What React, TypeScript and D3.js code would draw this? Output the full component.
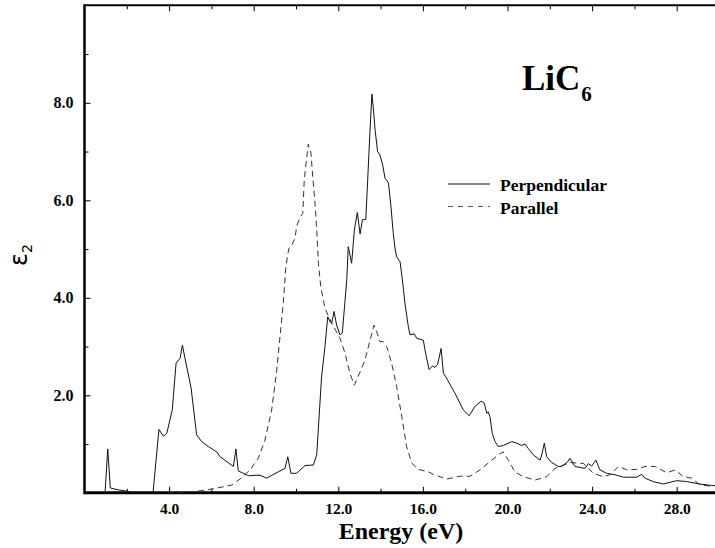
import React, { useEffect, useRef } from "react";
import * as d3 from "d3";

// perpendicular polarisation (solid)
const perpEnergy = [
  0.97, 1.1, 1.22, 1.6, 2.05, 2.2, 3.24, 3.52, 3.73, 3.89, 4.15, 4.33, 4.52, 4.63, 4.75, 5.04, 5.3, 5.54, 5.85,
  6.25, 6.41, 7.04, 7.16, 7.27, 7.75, 8.06, 8.3, 8.61, 9.16, 9.48, 9.61, 9.76, 10.03, 10.43, 10.82, 10.98, 11.21,
  11.37, 11.5, 11.61, 11.69, 11.8, 11.92, 12.08, 12.19, 12.32, 12.4, 12.47, 12.63, 12.76, 12.9, 13.03, 13.14,
  13.3, 13.39, 13.5, 13.59, 13.65, 13.74, 13.86, 13.97, 14.1, 14.21, 14.37, 14.49, 14.6, 14.68, 14.76, 14.92,
  15.03, 15.15, 15.31, 15.39, 15.59, 15.71, 16.02, 16.13, 16.29, 16.46, 16.57, 16.7, 16.86, 16.97, 17.08, 17.52,
  17.91, 18.19, 18.46, 18.75, 18.9, 19.02, 19.09, 19.17, 19.28, 19.41, 19.57, 19.8, 20.2, 20.43, 20.67, 20.83,
  20.98, 21.22, 21.54, 21.62, 21.74, 21.85, 22.09, 22.4, 22.56, 22.85, 22.95, 23.19, 23.66, 23.82, 23.98, 24.18,
  24.37, 24.69, 25.08, 25.48, 26.11, 26.35, 26.5, 26.89, 27.37, 28.0, 28.47, 29.1, 29.65, 30.0,
];
const perpEps = [
  0, 0.9, 0.1, 0.06, 0.03, 0, 0, 1.3, 1.16, 1.22, 1.7, 2.66, 2.76, 3.03, 2.76, 2.15, 1.19, 1.05, 0.95,
  0.84, 0.74, 0.54, 0.9, 0.45, 0.35, 0.36, 0.36, 0.3, 0.43, 0.5, 0.74, 0.4, 0.4, 0.56, 0.57, 0.78, 2.38,
  3.0, 3.61, 3.51, 3.48, 3.72, 3.44, 3.24, 3.28, 3.95, 4.37, 5.05, 4.71, 5.39, 5.75, 5.31, 5.6,
  5.61, 6.42, 7.44, 8.18, 7.92, 7.44, 7.0, 6.93, 6.72, 6.45, 6.36, 5.87, 5.32, 5.02, 4.84, 4.74,
  4.37, 3.89, 3.41, 3.24, 3.26, 3.17, 3.13, 2.86, 2.53, 2.6, 2.57, 2.64, 2.96, 2.45, 2.38, 2.04,
  1.7, 1.58, 1.77, 1.88, 1.84, 1.63, 1.66, 1.56, 1.22, 1.05, 0.95, 0.97, 1.05, 1.02, 0.97, 1.0,
  0.91, 0.78, 0.67, 0.78, 1.02, 0.74, 0.62, 0.54, 0.54, 0.64, 0.71, 0.54, 0.5, 0.6, 0.55, 0.67,
  0.47, 0.4, 0.37, 0.32, 0.32, 0.38, 0.3, 0.23, 0.18, 0.25, 0.23, 0.18, 0.15, 0.14,
];

// parallel polarisation (dashed)
const paraEnergy = [
  3.95, 5.13, 5.78, 6.41, 6.96, 7.35, 7.83, 8.22, 8.53, 8.85, 9.09, 9.32, 9.4, 9.51, 9.59, 9.67, 9.8, 9.95,
  10.03, 10.19, 10.32, 10.39, 10.51, 10.58, 10.71, 10.79, 10.9, 10.98, 11.06, 11.17, 11.37, 11.69, 12.08,
  12.32, 12.55, 12.76, 13.03, 13.26, 13.5, 13.69, 13.82, 13.97, 14.13, 14.29, 14.52, 14.76, 15.0, 15.23,
  15.47, 15.78, 16.26, 16.49, 17.12, 17.75, 18.23, 18.7, 19.17, 19.57, 19.8, 20.04, 20.35, 20.75, 21.3,
  21.85, 22.25, 22.64, 23.0, 23.6, 24.06, 24.53, 24.85, 25.24, 25.64, 26.11, 26.5, 26.97, 27.53, 27.92,
  28.32, 28.71, 29.1, 29.72,
];
const paraEps = [
  0, 0.02, 0.06, 0.11, 0.16, 0.28, 0.47, 0.71, 1.08, 1.7, 2.52, 3.54, 3.9, 4.57, 4.84, 5.02, 5.08, 5.22,
  5.46, 5.66, 5.73, 6.42, 6.89, 7.15, 6.96, 6.49, 5.94, 5.39, 4.71, 4.23, 3.78, 3.48, 3.17,
  2.86, 2.45, 2.21, 2.48, 2.72, 3.13, 3.44, 3.3, 3.1, 3.1, 3.0, 2.66, 2.18, 1.56, 0.95,
  0.61, 0.48, 0.43, 0.38, 0.28, 0.34, 0.34, 0.47, 0.64, 0.78, 0.84, 0.67, 0.43, 0.33, 0.26,
  0.33, 0.5, 0.57, 0.62, 0.6, 0.4, 0.33, 0.37, 0.54, 0.47, 0.48, 0.54, 0.54, 0.41, 0.47,
  0.33, 0.3, 0.16, 0.13,
];

const xMajor = [4, 8, 12, 16, 20, 24, 28];
const xMinor = [2, 6, 10, 14, 18, 22, 26, 30];
const yMajor = [2, 4, 6, 8];
const yMinor = [1, 3, 5, 7, 9];
const seriesNames = ["Perpendicular", "Parallel"];

const App = () => {
  const ref = useRef<SVGSVGElement>(null);

  useEffect(() => {
    const width = 715;
    const height = 548;
    const svg = d3.select(ref.current);
    svg.selectAll("*").remove();
    svg.attr("width", width).attr("height", height);

    const left = 84.5;
    const bottom = 492.8;
    const top = 5.3;
    const right = 719;
    const x = d3.scaleLinear().domain([0, 30]).range([left, right]);
    const y = d3.scaleLinear().domain([0, 10]).range([bottom, top]);
    const font = "'Liberation Serif', 'Times New Roman', serif";

    // clip to plot area
    svg
      .append("clipPath")
      .attr("id", "plotclip")
      .append("rect")
      .attr("x", left)
      .attr("y", top)
      .attr("width", right - left)
      .attr("height", bottom - top);

    const fmt = d3.format(".1f");

    // bottom axis
    const gx = svg
      .append("g")
      .attr("transform", `translate(0, ${bottom})`)
      .call(d3.axisBottom(x).tickValues(xMajor).tickSizeInner(-6).tickSizeOuter(0).tickPadding(10).tickFormat(fmt));
    svg
      .append("g")
      .attr("transform", `translate(0, ${bottom})`)
      .call(d3.axisBottom(x).tickValues(xMinor).tickSizeInner(-4).tickSizeOuter(0).tickFormat(() => ""));
    // top axis
    svg
      .append("g")
      .attr("transform", `translate(0, ${top})`)
      .call(d3.axisTop(x).tickValues(xMajor).tickSizeInner(-6).tickSizeOuter(0).tickFormat(() => ""));
    svg
      .append("g")
      .attr("transform", `translate(0, ${top})`)
      .call(d3.axisTop(x).tickValues(xMinor).tickSizeInner(-4).tickSizeOuter(0).tickFormat(() => ""));
    // left axis
    const gy = svg
      .append("g")
      .attr("transform", `translate(${left}, 0)`)
      .call(d3.axisLeft(y).tickValues(yMajor).tickSizeInner(-6).tickSizeOuter(0).tickPadding(11).tickFormat(fmt));
    svg
      .append("g")
      .attr("transform", `translate(${left}, 0)`)
      .call(d3.axisLeft(y).tickValues(yMinor).tickSizeInner(-4).tickSizeOuter(0).tickFormat(() => ""));

    svg.selectAll(".domain").remove();
    svg.selectAll(".tick line").attr("stroke", "#000").attr("stroke-width", 1);
    gx.selectAll("text").attr("font-family", font).attr("font-weight", "bold").attr("font-size", 15.5).attr("fill", "#000");
    gy.selectAll("text").attr("font-family", font).attr("font-weight", "bold").attr("font-size", 16).attr("fill", "#000");

    // frame
    svg.append("line").attr("x1", left).attr("x2", right).attr("y1", top).attr("y2", top).attr("stroke", "#000").attr("stroke-width", 2);
    svg.append("line").attr("x1", left).attr("x2", right).attr("y1", bottom).attr("y2", bottom).attr("stroke", "#000").attr("stroke-width", 3);
    svg.append("line").attr("x1", left).attr("x2", left).attr("y1", top - 1).attr("y2", bottom + 1.5).attr("stroke", "#000").attr("stroke-width", 2.5);

    const perpPts: [number, number][] = perpEnergy.map((e, i) => [x(e), y(perpEps[i])]);
    const paraPts: [number, number][] = paraEnergy.map((e, i) => [x(e), y(paraEps[i])]);
    const path = d3.line();

    const plot = svg.append("g").attr("clip-path", "url(#plotclip)");
    plot
      .append("path")
      .attr("d", path(paraPts))
      .attr("fill", "none")
      .attr("stroke", "#333")
      .attr("stroke-width", 1)
      .attr("stroke-dasharray", "6,4");
    plot
      .append("path")
      .attr("d", path(perpPts))
      .attr("fill", "none")
      .attr("stroke", "#111")
      .attr("stroke-width", 1);

    // title
    const title = svg
      .append("text")
      .attr("x", 522)
      .attr("y", 90)
      .attr("font-family", font)
      .attr("font-weight", "bold")
      .attr("font-size", 35)
      .attr("fill", "#000");
    title.append("tspan").text("LiC");
    title.append("tspan").attr("font-size", 21).attr("dy", 11).attr("dx", 1).text("6");

    // legend
    const legend = svg.append("g");
    seriesNames.forEach((name, i) => {
      const ly = 184 + i * 22.5;
      legend
        .append("line")
        .attr("x1", 448)
        .attr("x2", 490)
        .attr("y1", ly)
        .attr("y2", ly)
        .attr("stroke", i === 0 ? "#111" : "#555")
        .attr("stroke-width", 1)
        .attr("stroke-dasharray", i === 0 ? null : "5,5");
      legend
        .append("text")
        .attr("x", 500)
        .attr("y", ly + 7)
        .attr("font-family", font)
        .attr("font-weight", "bold")
        .attr("font-size", 17.5)
        .attr("fill", "#000")
        .text(name);
    });

    // axis titles
    svg
      .append("text")
      .attr("x", 401)
      .attr("y", 539)
      .attr("text-anchor", "middle")
      .attr("font-family", font)
      .attr("font-weight", "bold")
      .attr("font-size", 24)
      .attr("fill", "#000")
      .text("Energy (eV)");

    const yt = svg
      .append("text")
      .attr("transform", "translate(27, 255) rotate(-90)")
      .attr("text-anchor", "middle")
      .attr("font-family", "'DejaVu Sans', sans-serif")
      .attr("font-size", 24)
      .attr("fill", "#000");
    yt.append("tspan").text("ε");
    yt.append("tspan").attr("font-size", 14).attr("dy", 5).text("2");
  }, []);

  return <svg ref={ref} style={{ position: "absolute", left: 0, top: 0, background: "#fff" }}></svg>;
};

export default App;
